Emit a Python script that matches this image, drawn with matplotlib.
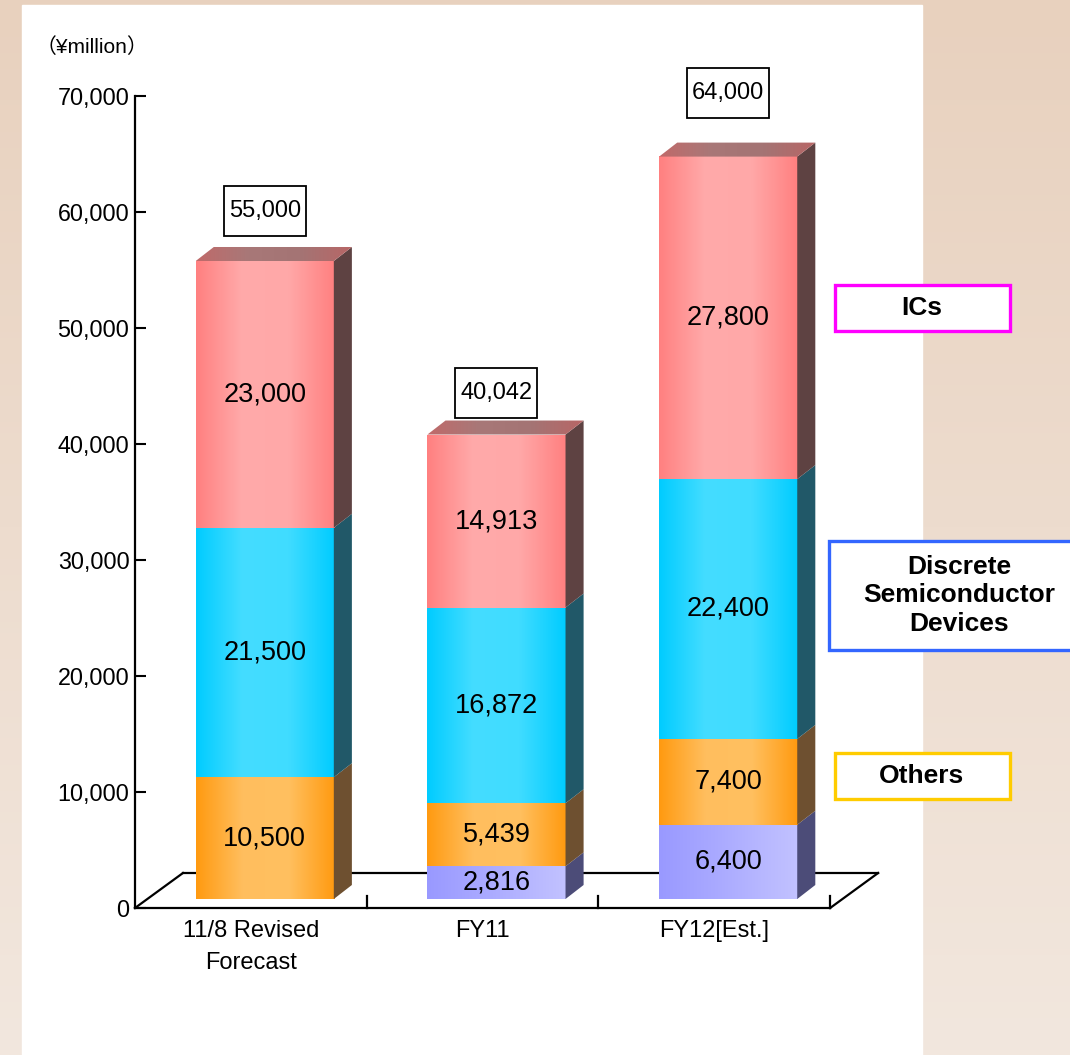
import numpy as np
import matplotlib
matplotlib.use("Agg")
import matplotlib.pyplot as plt
from matplotlib.patches import Polygon, Rectangle
from matplotlib.colors import LinearSegmentedColormap, to_rgb

plt.rcParams['font.family'] = ['Liberation Sans', 'Noto Sans CJK JP', 'DejaVu Sans']

# data
categories = ['11/8 Revised\nForecast', 'FY11', 'FY12[Est.]']
lavender_vals = [0, 2816, 6400]      # bottom segment (no legend entry)
others_vals = [10500, 5439, 7400]
discrete_vals = [21500, 16872, 22400]
ics_vals = [23000, 14913, 27800]
totals = [55000, 40042, 64000]
yticks = [0, 10000, 20000, 30000, 40000, 50000, 60000, 70000]

# looks
W, H = 1070, 1055
bar_w = 0.596
bar_shift = 0.06        # bars sit a bit into the floor
base_lift = 776
side_dx, side_dy = 0.078, 1207
floor_dx, floor_dy = 0.207, 3017
box_lift = [4300, 3600, 5500]
box_w, box_h = 0.354, 4310

seg_styles = [
    # front gradient stops, side colour
    (['#9999FF', '#ADADFF', '#C2C2FF'], '#4C4C78'),   # lavender
    (['#FF9A10', '#FFBE5E', '#FFC060', '#FF9A10'], '#6E5030'),   # others
    (['#00CCFF', '#44DDFF', '#40DCFF', '#00CCFF'], '#215868'),   # discrete
    (['#FF8080', '#FFAAAA', '#FFA8A8', '#FF8080'], '#5E4242'),   # ICs
]
top_stops = ['#C06A6A', '#A87878', '#A47474', '#B86666']


def grad_img(stops, n=256):
    cmap = LinearSegmentedColormap.from_list('g', stops)
    return cmap(np.linspace(0, 1, n))[None, :, :3]


fig = plt.figure(figsize=(W / 100, H / 100), dpi=100)

# page background: peach gradient with a white panel
bg = fig.add_axes([0, 0, 1, 1], zorder=-10)
top_c = np.array(to_rgb('#E8D1BE'))
bot_c = np.array(to_rgb('#F2E7DE'))
t = np.linspace(0, 1, 200)[:, None, None]
bg.imshow(top_c * (1 - t) + bot_c * t, aspect='auto', extent=[0, 1, 0, 1])
bg.add_patch(Rectangle((22 / W, 0), 900 / W, 1 - 5 / H, color='white'))
bg.set_xlim(0, 1)
bg.set_ylim(0, 1)
bg.axis('off')

ax = fig.add_axes([135 / W, (H - 931.2) / H, 811 / W, 858.4 / H])
ax.patch.set_alpha(0)
xmin, xmax, ymin, ymax = -0.5, 3.0, -2000, 72000

# floor
n = len(categories)
fx0, fx1 = -0.5, n - 0.5
ax.plot([fx0, fx1], [0, 0], color='black', lw=1.6, zorder=1, clip_on=False)
ax.plot([fx0 + floor_dx, fx1 + floor_dx], [floor_dy, floor_dy], color='black', lw=1.6, zorder=1, clip_on=False)
ax.plot([fx0, fx0 + floor_dx], [0, floor_dy], color='black', lw=1.6, zorder=1, clip_on=False)
ax.plot([fx1, fx1 + floor_dx], [0, floor_dy], color='black', lw=1.6, zorder=1, clip_on=False)
for k in range(1, n + 1):
    ax.plot([k - 0.5, k - 0.5], [0, 1000], color='black', lw=1.6, zorder=1, clip_on=False)

# bars
series = [lavender_vals, others_vals, discrete_vals, ics_vals]
for i in range(n):
    x0 = i - bar_w / 2 + bar_shift
    x1 = x0 + bar_w
    bottom = base_lift
    for s, vals in enumerate(series):
        v = vals[i]
        if v <= 0:
            continue
        stops, side_c = seg_styles[s]
        ax.imshow(grad_img(stops), extent=[x0, x1, bottom, bottom + v],
                  aspect='auto', interpolation='bilinear', zorder=3)
        ax.add_patch(Polygon([(x1, bottom), (x1 + side_dx, bottom + side_dy),
                              (x1 + side_dx, bottom + v + side_dy), (x1, bottom + v)],
                             closed=True, facecolor=side_c, edgecolor='none', zorder=3))
        ax.text((x0 + x1) / 2, bottom + v / 2, f'{v:,}', ha='center', va='center',
                fontsize=19.5, zorder=5)
        bottom += v
    top_poly = Polygon([(x0, bottom), (x1, bottom), (x1 + side_dx, bottom + side_dy),
                        (x0 + side_dx, bottom + side_dy)], closed=True,
                       facecolor='none', edgecolor='none')
    ax.add_patch(top_poly)
    im = ax.imshow(grad_img(top_stops), extent=[x0, x1 + side_dx, bottom, bottom + side_dy],
                   aspect='auto', interpolation='bilinear', zorder=3)
    im.set_clip_path(top_poly)

    # total box
    cy = bottom + box_lift[i]
    cx = (x0 + x1) / 2
    ax.add_patch(Rectangle((cx - box_w / 2, cy - box_h / 2), box_w, box_h,
                           facecolor='white', edgecolor='black', lw=1.3, zorder=4, clip_on=False))
    ax.text(cx, cy, f'{totals[i]:,}', ha='center', va='center', fontsize=17, zorder=5)

# category labels
for i, lab in enumerate(categories):
    ax.text(i, -1000, lab, ha='center', va='top', fontsize=17, linespacing=1.6)

ax.set_xlim(xmin, xmax)
ax.set_ylim(ymin, ymax)
ax.set_xticks([])
ax.set_yticks(yticks)
ax.set_yticklabels([f'{v:,}' for v in yticks])
ax.tick_params(axis='y', direction='in', length=8, width=1.5, labelsize=16.8, pad=4)
for sp in ['top', 'right', 'bottom']:
    ax.spines[sp].set_visible(False)
ax.spines['left'].set_bounds(0, 70000)
ax.spines['left'].set_linewidth(1.6)

fig.text(36 / W, 1 - 47 / H, '（¥million）', fontsize=15, ha='left', va='center')

# legend boxes on the right
legend_boxes = [
    ('ICs', '#FF00FF', (835, 285, 175, 46), 922),
    ('Discrete\nSemiconductor\nDevices', '#3366FF', (829, 541, 250, 109), 959),
    ('Others', '#FFCC00', (835, 753, 175, 46), 922),
]
for label, col, (bx, by, bw, bh), tx in legend_boxes:
    fig.patches.append(Rectangle((bx / W, 1 - (by + bh) / H), bw / W, bh / H,
                                 transform=fig.transFigure, facecolor='white',
                                 edgecolor=col, lw=2.4, zorder=5))
    fig.text(tx / W, 1 - (by + bh / 2) / H, label, ha='center', va='center',
             fontsize=19, fontweight='bold', linespacing=1.25, zorder=6)

fig.savefig('out.png', dpi=100)
